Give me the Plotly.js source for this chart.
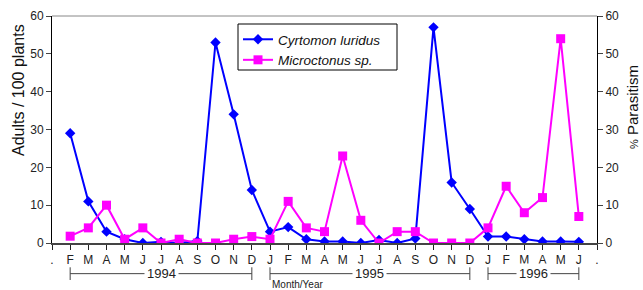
<!DOCTYPE html>
<html><head><meta charset="utf-8">
<script src="https://cdn.plot.ly/plotly-3.0.1.min.js"></script>
<style>html,body{margin:0;padding:0;background:#fff}#c{width:643px;height:290px}</style>
</head><body><div id="c"></div>
<script>
const tickLabels = [".","F","M","A","M","J","J","A","S","O","N","D","J","F","M","A","M","J","J","A","S","O","N","D","J","F","M","A","M","J","."];
const monthIdx = [1,2,3,4,5,6,7,8,9,10,11,12,13,14,15,16,17,18,19,20,21,22,23,24,25,26,27,28,29];
const cyrtomon = [29,11,3,1,0,0.3,0,0.5,53,34,14,3,4.2,1,0.4,0.4,0,0.8,0,1.2,57,16,9,1.7,1.7,1,0.4,0.4,0.3];
const microctonus = [1.8,4,10,1,4,0,1,0,0,1,1.7,1,11,4,3,23,6,0,3,3,0,0,0,4,15,8,12,54,7];
const years = [{label:"1994",from:1,to:11},{label:"1995",from:12,to:23},{label:"1996",from:24,to:29}];

const FONT = "Liberation Sans, Arial, sans-serif";
const traces = [
 {x:monthIdx,y:cyrtomon,name:"Cyrtomon luridus",type:"scatter",mode:"lines+markers",
  line:{color:"#0000FF",width:2},marker:{symbol:"diamond",size:8,color:"#0000FF"},yaxis:"y"},
 {x:monthIdx,y:microctonus,name:"Microctonus sp.",type:"scatter",mode:"lines+markers",
  line:{color:"#FF00FF",width:2},marker:{symbol:"square",size:9,color:"#FF00FF"},yaxis:"y2"}
];

const L=52,R=46,T=16,B=47,W=643,H=290,pw=W-L-R,ph=H-T-B;
const px = v=>(v-L)/pw, py = v=>(H-B-v)/ph;

const by = -0.135;
const shapes = [
  {type:"line",xref:"paper",yref:"paper",x0:0,x1:1,y0:1,y1:1,line:{color:"#888",width:1}},
  {type:"rect",xref:"paper",yref:"paper",x0:px(238),x1:px(397),y0:py(70),y1:py(24),line:{color:"#000",width:1},fillcolor:"#fff",layer:"above"}
];
const annotations = [];
years.forEach(yr=>{
  shapes.push({type:"line",xref:"x",yref:"paper",x0:yr.from,x1:yr.to,y0:by,y1:by,line:{color:"#444",width:1}});
  shapes.push({type:"line",xref:"x",yref:"paper",x0:yr.from,x1:yr.from,y0:by-0.028,y1:by+0.028,line:{color:"#444",width:1}});
  shapes.push({type:"line",xref:"x",yref:"paper",x0:yr.to,x1:yr.to,y0:by-0.028,y1:by+0.028,line:{color:"#444",width:1}});
  annotations.push({x:(yr.from+yr.to)/2,y:by,xref:"x",yref:"paper",text:yr.label,showarrow:false,
    yanchor:"middle",xanchor:"center",bgcolor:"#fff",font:{family:FONT,size:13,color:"#222"},borderpad:2});
});
annotations.push({x:13.5,y:-0.182,xref:"x",yref:"paper",text:"Month/Year",showarrow:false,yanchor:"middle",
  font:{family:FONT,size:10,color:"#222"}});
annotations.push({x:px(18),y:py(90),xref:"paper",yref:"paper",text:"Adults / 100 plants",showarrow:false,textangle:-90,
  xanchor:"center",yanchor:"middle",font:{family:FONT,size:16,color:"#111"}});
annotations.push({x:px(632),y:py(107),xref:"paper",yref:"paper",text:"<span style='font-size:11px'>%</span> Parasitism",showarrow:false,textangle:-90,
  xanchor:"center",yanchor:"middle",font:{family:FONT,size:15,color:"#111"}});

const layout = {
  width:W,height:H,margin:{l:L,r:R,t:T,b:B},
  paper_bgcolor:"#fff",plot_bgcolor:"#fff",
  font:{family:FONT,color:"#222"},
  showlegend:true,
  legend:{x:px(238),y:py(24),xanchor:"left",yanchor:"top",borderwidth:0,bgcolor:"rgba(0,0,0,0)",
    font:{family:FONT,size:13.5,style:"italic",color:"#111"},tracegroupgap:2},
  xaxis:{range:[0,30],tickmode:"array",tickvals:tickLabels.map((_,i)=>i),ticktext:tickLabels,
    showgrid:false,zeroline:false,showline:true,linecolor:"#444",linewidth:2,
    ticks:"outside",ticklen:5,tickcolor:"#222",tickfont:{size:12,color:"#222"}},
  yaxis:{range:[0,60],dtick:10,showgrid:false,zeroline:false,showline:true,linecolor:"#000",linewidth:1,
    ticks:"outside",ticklen:5,tickfont:{size:12,color:"#222"}},
  yaxis2:{range:[0,60],dtick:10,overlaying:"y",side:"right",showgrid:false,zeroline:false,showline:true,
    linecolor:"#000",linewidth:1,ticks:"outside",ticklen:5,tickfont:{size:12,color:"#222"}},
  shapes:shapes,annotations:annotations
};
Plotly.newPlot("c",traces,layout,{displayModeBar:false,staticPlot:true});
</script></body></html>
